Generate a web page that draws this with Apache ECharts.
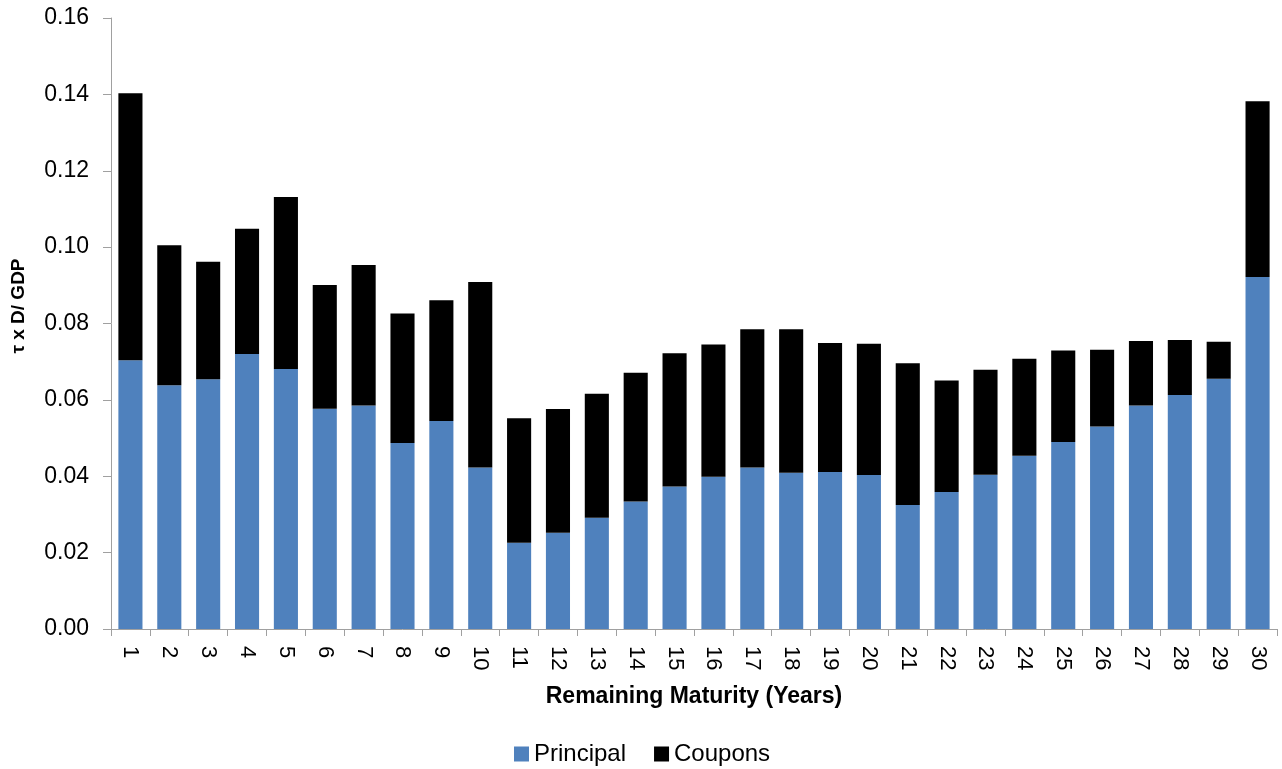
<!DOCTYPE html>
<html>
<head>
<meta charset="utf-8">
<script src="https://cdn.jsdelivr.net/npm/echarts@6/dist/echarts.min.js"></script>
<style>
html,body{margin:0;padding:0;background:#fff;}
#chart{width:1282px;height:769px;}
</style>
</head>
<body>
<div id="chart"></div>
<script>
var categories = ['1','2','3','4','5','6','7','8','9','10','11','12','13','14','15','16','17','18','19','20','21','22','23','24','25','26','27','28','29','30'];
var principal = [0.0704,0.0638,0.0654,0.0720,0.0681,0.0577,0.0585,0.0487,0.0545,0.0423,0.0226,0.0252,0.0291,0.0334,0.0373,0.0399,0.0423,0.0409,0.0411,0.0403,0.0325,0.0359,0.0404,0.0454,0.0490,0.0530,0.0585,0.0613,0.0655,0.0922];
var coupons = [0.0699,0.0367,0.0308,0.0328,0.0450,0.0324,0.0368,0.0339,0.0316,0.0486,0.0326,0.0324,0.0325,0.0337,0.0349,0.0346,0.0362,0.0376,0.0338,0.0344,0.0371,0.0292,0.0275,0.0254,0.0239,0.0201,0.0169,0.0144,0.0097,0.0460];
var seriesNames = ['Principal','Coupons'];
var yTitle = '\u03c4 x D/ GDP';
var xTitle = 'Remaining Maturity (Years)';

var FONT = "'Liberation Sans', Arial, sans-serif";
var chart = echarts.init(document.getElementById('chart'), null, {renderer:'canvas'});
chart.setOption({
  animation:false,
  backgroundColor:'#ffffff',
  grid:{left:111,right:5,top:18,bottom:140,containLabel:false},
  legend:{
    data:seriesNames,
    left:509, top:737,
    itemWidth:15, itemHeight:15, itemGap:28,
    icon:'rect',
    textStyle:{fontFamily:FONT,fontSize:24,color:'#000'}
  },
  graphic:[{
    type:'text',
    x:19, y:306,
    rotation:Math.PI/2,
    style:{text:yTitle, fontFamily:FONT, fontSize:19, fontWeight:'bold', fill:'#000', textAlign:'center', textVerticalAlign:'middle'}
  }],
  xAxis:{
    type:'category',
    data:categories,
    name:xTitle,
    nameLocation:'middle',
    nameGap:56,
    nameTextStyle:{fontFamily:FONT,fontSize:23,fontWeight:'bold',color:'#000'},
    axisLine:{show:true,lineStyle:{color:'#a0a0a0',width:1}},
    axisTick:{show:true,alignWithLabel:false,length:7,lineStyle:{color:'#a0a0a0'}},
    axisLabel:{rotate:-90,margin:17,fontFamily:FONT,fontSize:22,color:'#000',interval:0},
    splitLine:{show:false}
  },
  yAxis:{
    type:'value',
    min:0,max:0.16,interval:0.02,
    axisLine:{show:true,lineStyle:{color:'#a0a0a0',width:1}},
    axisTick:{show:true,length:8,lineStyle:{color:'#a0a0a0'}},
    axisLabel:{margin:22,fontFamily:FONT,fontSize:23,color:'#000',formatter:function(v){return v.toFixed(2);}},
    splitLine:{show:false}
  },
  series:[
    {name:seriesNames[0],type:'bar',stack:'total',data:principal,barWidth:'62%',itemStyle:{color:'#4F81BD'}},
    {name:seriesNames[1],type:'bar',stack:'total',data:coupons,barWidth:'62%',itemStyle:{color:'#000000'}}
  ]
});
</script>
</body>
</html>
